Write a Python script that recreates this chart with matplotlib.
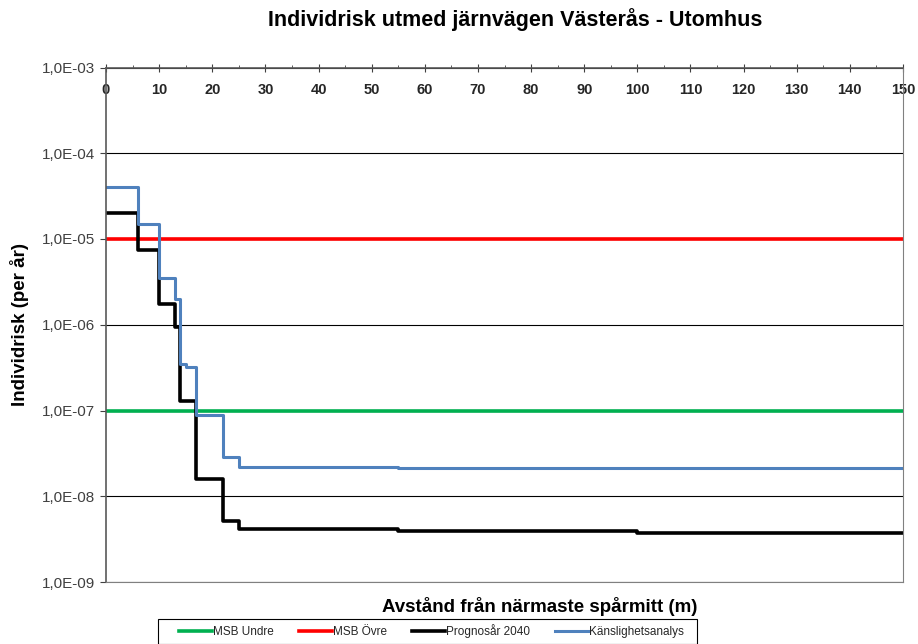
import matplotlib
matplotlib.use("Agg")
import matplotlib.pyplot as plt
from matplotlib.patches import Rectangle
from matplotlib.ticker import FixedLocator, MultipleLocator, FuncFormatter, NullLocator

plt.rcParams['font.family'] = ['Liberation Sans', 'DejaVu Sans']

# Data
x_edges = [0, 6, 10, 13, 14, 15, 17, 22, 25, 55, 100, 150]
prognos_2040 = [2.0e-5, 7.4e-6, 1.75e-6, 9.5e-7, 1.3e-7, 1.28e-7, 1.57e-8, 5.2e-9, 4.1e-9, 3.9e-9, 3.75e-9]
kanslighet = [4.0e-5, 1.5e-5, 3.5e-6, 2.0e-6, 3.45e-7, 3.2e-7, 8.8e-8, 2.9e-8, 2.22e-8, 2.13e-8, 2.13e-8]
msb_undre = 1e-7
msb_ovre = 1e-5
x_ticks = list(range(0, 151, 10))
y_ticks = [1e-9, 1e-8, 1e-7, 1e-6, 1e-5, 1e-4, 1e-3]

W, H = 918, 644
fig = plt.figure(figsize=(W/100, H/100), dpi=100)
ax = fig.add_axes([106/W, 1-582/H, (903-106)/W, (582-67.5)/H])

ax.set_yscale('log')
ax.set_xlim(0, 150)
ax.set_ylim(1e-9, 1e-3)

ax.yaxis.set_major_locator(FixedLocator(y_ticks))
ax.yaxis.set_minor_locator(NullLocator())
ax.yaxis.set_major_formatter(FuncFormatter(lambda v, p: ("%.1E" % v).replace('.', ',')))
ax.grid(True, axis='y', which='major', color='black', linewidth=0.8)
ax.set_axisbelow(True)

l1, = ax.plot([0, 150], [msb_undre, msb_undre], color='#00B050', linewidth=2.6, label='MSB Undre')
l2, = ax.plot([0, 150], [msb_ovre, msb_ovre], color='#FF0000', linewidth=2.6, label='MSB Övre')
l3, = ax.step(x_edges, prognos_2040 + [prognos_2040[-1]], where='post', color='black', linewidth=2.6, label='Prognosår 2040')
l4, = ax.step(x_edges, kanslighet + [kanslighet[-1]], where='post', color='#4F81BD', linewidth=2.2, label='Känslighetsanalys')

ax.xaxis.set_major_locator(FixedLocator(x_ticks))
ax.xaxis.set_minor_locator(MultipleLocator(5))
ax.tick_params(axis='x', which='both', top=True, bottom=False, labeltop=True, labelbottom=False,
               color='#404040')
ax.tick_params(axis='x', which='major', direction='inout', length=6, pad=-24, labelsize=10.5,
               labelcolor='#262626')
ax.tick_params(axis='x', which='minor', direction='out', length=2.5)
for lab in ax.get_xticklabels():
    lab.set_fontweight('bold')
ax.tick_params(axis='y', which='major', direction='out', length=4, labelsize=11, color='#404040',
               labelcolor='#404040', pad=4)

for s in ['left', 'top']:
    ax.spines[s].set_color('#595959')
    ax.spines[s].set_linewidth(1.2)
for s in ['right', 'bottom']:
    ax.spines[s].set_color('#808080')
    ax.spines[s].set_linewidth(0.8)

fig.text(515/W, 1-20/H, 'Individrisk utmed järnvägen Västerås - Utomhus', ha='center', va='center',
         fontsize=15.5, fontweight='bold')
fig.text(20/W, 1-325/H, 'Individrisk (per år)', ha='center', va='center', rotation=90,
         fontsize=13.5, fontweight='bold')
fig.text(540/W, 1-607/H, 'Avstånd från närmaste spårmitt (m)', ha='center', va='center',
         fontsize=13.5, fontweight='bold')

# Legend box frame
fig.patches.append(Rectangle((158/W, 1-643.5/H), (697-158)/W, (643.5-619)/H,
                             transform=fig.transFigure, facecolor='white', edgecolor='black',
                             linewidth=0.8, zorder=1))
leg = fig.legend(handles=[l1, l2, l3, l4], loc='center left',
                 bbox_to_anchor=(179/W, 1-631.5/H, (684-179)/W, 0.0001), mode='expand', ncol=4,
                 fontsize=8.5, frameon=False, handlelength=2.8,
                 handletextpad=0.05, borderaxespad=0, borderpad=0.0, columnspacing=1.5)
for t in leg.get_texts():
    t.set_color('#262626')

fig.savefig('out.png', dpi=100)
